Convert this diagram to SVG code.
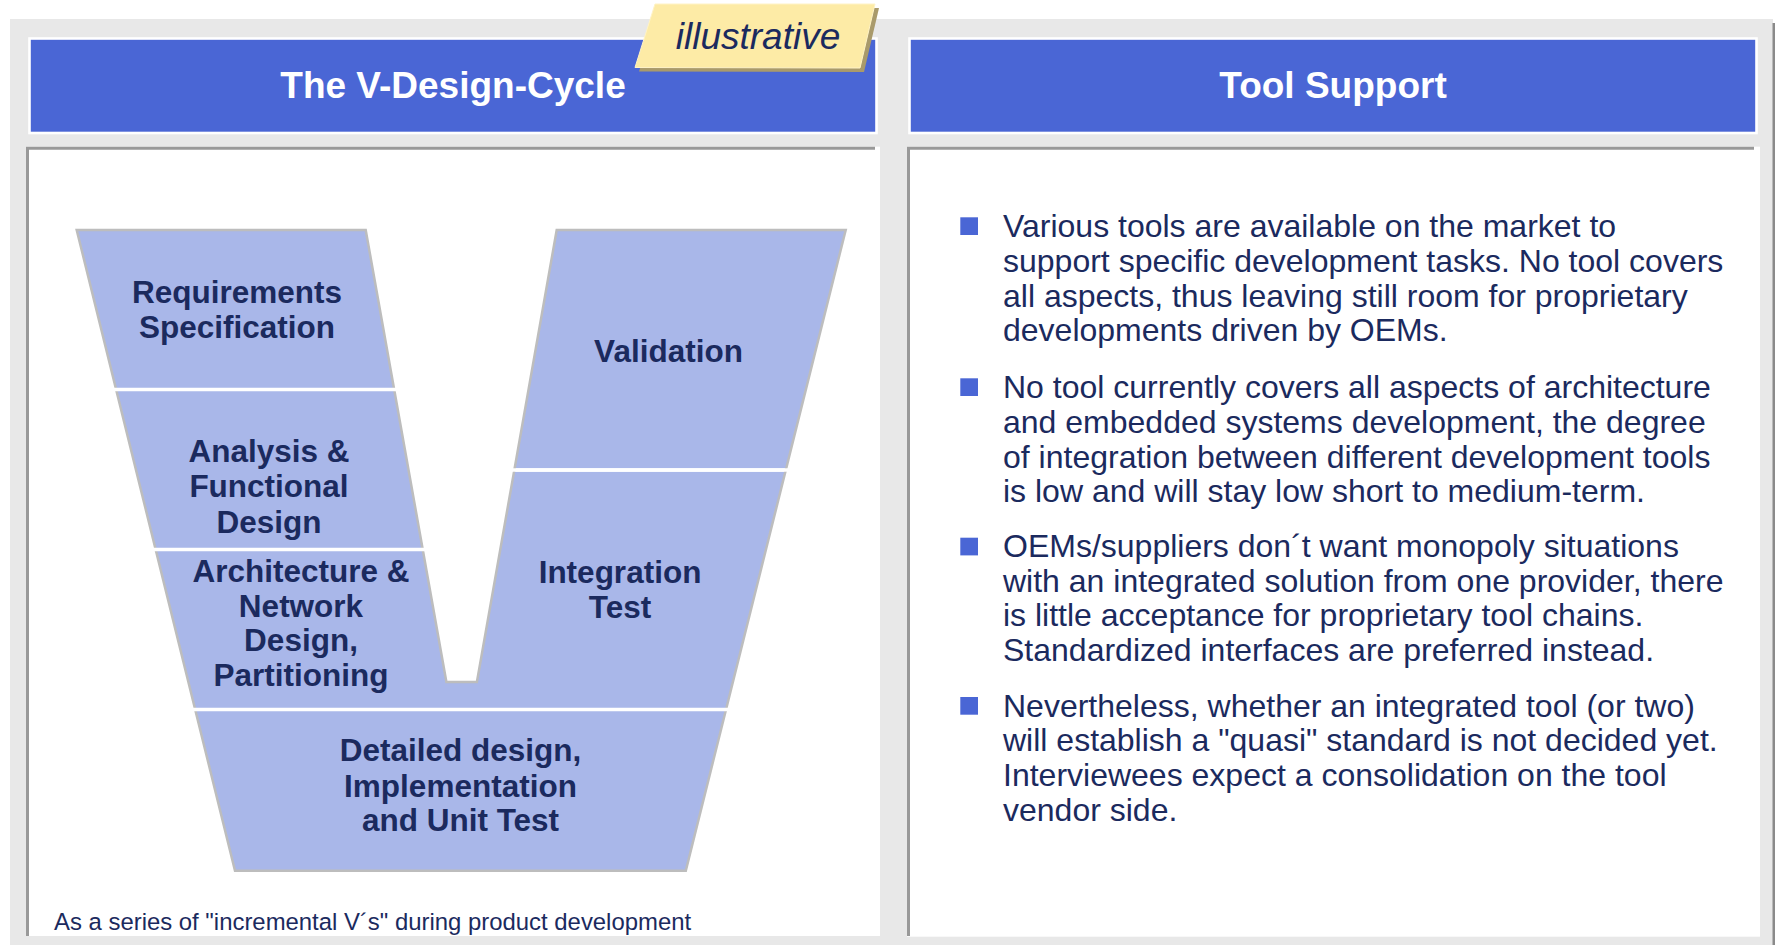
<svg xmlns="http://www.w3.org/2000/svg" width="1775" height="945" viewBox="0 0 1775 945">
<style>
.bg{fill:#e8e8e8}
.panel{fill:#ffffff}
.pborder{fill:none;stroke:#999999;stroke-width:3}
.hdr{fill:#4a66d5;stroke:#ffffff;stroke-width:2.6}
.hdrtxt{font-family:"Liberation Sans",Arial,sans-serif;font-weight:bold;font-size:37px;fill:#ffffff;text-anchor:middle}
.seg{fill:#a9b7e9}
.lbl{font-family:"Liberation Sans",Arial,sans-serif;font-weight:bold;font-size:31.5px;fill:#1b2a5e;text-anchor:middle}
.body{font-family:"Liberation Sans",Arial,sans-serif;font-size:32px;fill:#1b2a5e}
.bullet{fill:#4a66d5}
.gap{stroke:#ffffff;stroke-width:3.4}
</style>
<rect x="0" y="0" width="1775" height="945" fill="#ffffff"/>
<rect class="bg" x="10" y="19" width="1763" height="926"/>
<rect x="1772.5" y="23" width="2.5" height="922" fill="#8a8a8a"/>

<!-- left panel -->
<g id="left-panel">
<rect class="panel" x="26" y="146.7" width="854" height="789.3"/>
<path class="pborder" d="M27.5,936 L27.5,148.2 L875,148.2"/>
</g>
<g id="header-left">
<rect class="hdr" x="29.5" y="38.5" width="847" height="94.5"/>
<text class="hdrtxt" x="453" y="98">The V-Design-Cycle</text>
</g>
<g id="tag-illustrative">
<polygon points="659,8 879,8 864,72 639,71.5" fill="#a99a6b"/>
<polygon points="655,4 875,4 860,68 635,67.5" fill="#fdeba6" stroke="#fff3c6" stroke-width="1"/>
<text x="758" y="48.5" font-family="'Liberation Sans',Arial,sans-serif" font-style="italic" font-size="37" fill="#1b2a5e" text-anchor="middle">illustrative</text>
</g>

<!-- right panel -->
<g id="right-panel">
<rect class="panel" x="907" y="146.7" width="853" height="790"/>
<path class="pborder" d="M908.5,936 L908.5,148.2 L1754,148.2"/>
</g>
<g id="header-right">
<rect class="hdr" x="909.5" y="38.5" width="847" height="94.5"/>
<text class="hdrtxt" x="1333" y="98">Tool Support</text>
</g>

<!-- V diagram -->
<g id="node-requirements">
<polygon class="seg" points="76.7,230 365.7,230 393.9,388 115.7,388"/>
<text class="lbl" x="237" y="302.7">Requirements</text>
<text class="lbl" x="237" y="337.7">Specification</text>
</g>
<g id="node-analysis">
<polygon class="seg" points="116.5,391 394.4,391 422.5,548 155.3,548"/>
<text class="lbl" x="269" y="461.7">Analysis &amp;</text>
<text class="lbl" x="269" y="497.2">Functional</text>
<text class="lbl" x="269" y="532.7">Design</text>
</g>
<g id="node-architecture">
<polygon class="seg" points="156,551 423,551 446.4,682 462,682 462,708 194.8,708"/>
<text class="lbl" x="301" y="581.7">Architecture &amp;</text>
<text class="lbl" x="301" y="616.5">Network</text>
<text class="lbl" x="301" y="651.3">Design,</text>
<text class="lbl" x="301" y="686">Partitioning</text>
</g>
<g id="node-validation">
<polygon class="seg" points="556.7,230 845.7,230 786.2,468.3 514.6,468.3"/>
<text class="lbl" x="668.5" y="361.7">Validation</text>
</g>
<g id="node-integration">
<polygon class="seg" points="514,471.7 785.4,471.7 726.4,708 456,708 456,682 476.9,682"/>
<text class="lbl" x="620" y="583.3">Integration</text>
<text class="lbl" x="620" y="617.7">Test</text>
</g>
<g id="node-detailed">
<polygon class="seg" points="195.6,711 725.6,711 685.8,870.7 235,870.7"/>
<text class="lbl" x="460.5" y="761">Detailed design,</text>
<text class="lbl" x="460.5" y="796.5">Implementation</text>
<text class="lbl" x="460.5" y="831">and Unit Test</text>
</g>
<g id="v-outline">
<path d="M76.7,230 L365.7,230 L446.4,682 L476.9,682 L556.7,230 L845.7,230 L685.8,870.7 L235,870.7 Z" fill="none" stroke="#bdbdbd" stroke-width="2.5" stroke-linejoin="miter"/>
<line class="gap" x1="111" y1="389.5" x2="399" y2="389.5"/>
<line class="gap" x1="150" y1="549.5" x2="428" y2="549.5"/>
<line class="gap" x1="509" y1="470" x2="791" y2="470"/>
<line class="gap" x1="189" y1="709.5" x2="732" y2="709.5"/>
</g>
<g id="connectors"></g>

<g id="footer-note">
<text x="54" y="930" font-family="'Liberation Sans',Arial,sans-serif" font-size="23.9" fill="#1b2a5e">As a series of "incremental V´s" during product development</text>
</g>

<!-- bullets -->
<g id="bullet-1">
<rect class="bullet" x="960.3" y="217.3" width="17.7" height="17.7"/>
<text class="body" x="1003" y="237.3">Various tools are available on the market to</text>
<text class="body" x="1003" y="272">support specific development tasks. No tool covers</text>
<text class="body" x="1003" y="306.7">all aspects, thus leaving still room for proprietary</text>
<text class="body" x="1003" y="341.4">developments driven by OEMs.</text>
</g>
<g id="bullet-2">
<rect class="bullet" x="960.3" y="378.3" width="17.7" height="17.7"/>
<text class="body" x="1003" y="398.3">No tool currently covers all aspects of architecture</text>
<text class="body" x="1003" y="433">and embedded systems development, the degree</text>
<text class="body" x="1003" y="467.7">of integration between different development tools</text>
<text class="body" x="1003" y="502.4">is low and will stay low short to medium-term.</text>
</g>
<g id="bullet-3">
<rect class="bullet" x="960.3" y="537.7" width="17.7" height="17.7"/>
<text class="body" x="1003" y="557">OEMs/suppliers don´t want monopoly situations</text>
<text class="body" x="1003" y="591.7">with an integrated solution from one provider, there</text>
<text class="body" x="1003" y="626.4">is little acceptance for proprietary tool chains.</text>
<text class="body" x="1003" y="661.1">Standardized interfaces are preferred instead.</text>
</g>
<g id="bullet-4">
<rect class="bullet" x="960.3" y="697" width="17.7" height="17.7"/>
<text class="body" x="1003" y="716.7">Nevertheless, whether an integrated tool (or two)</text>
<text class="body" x="1003" y="751.4">will establish a "quasi" standard is not decided yet.</text>
<text class="body" x="1003" y="786.1">Interviewees expect a consolidation on the tool</text>
<text class="body" x="1003" y="820.8">vendor side.</text>
</g>
</svg>
